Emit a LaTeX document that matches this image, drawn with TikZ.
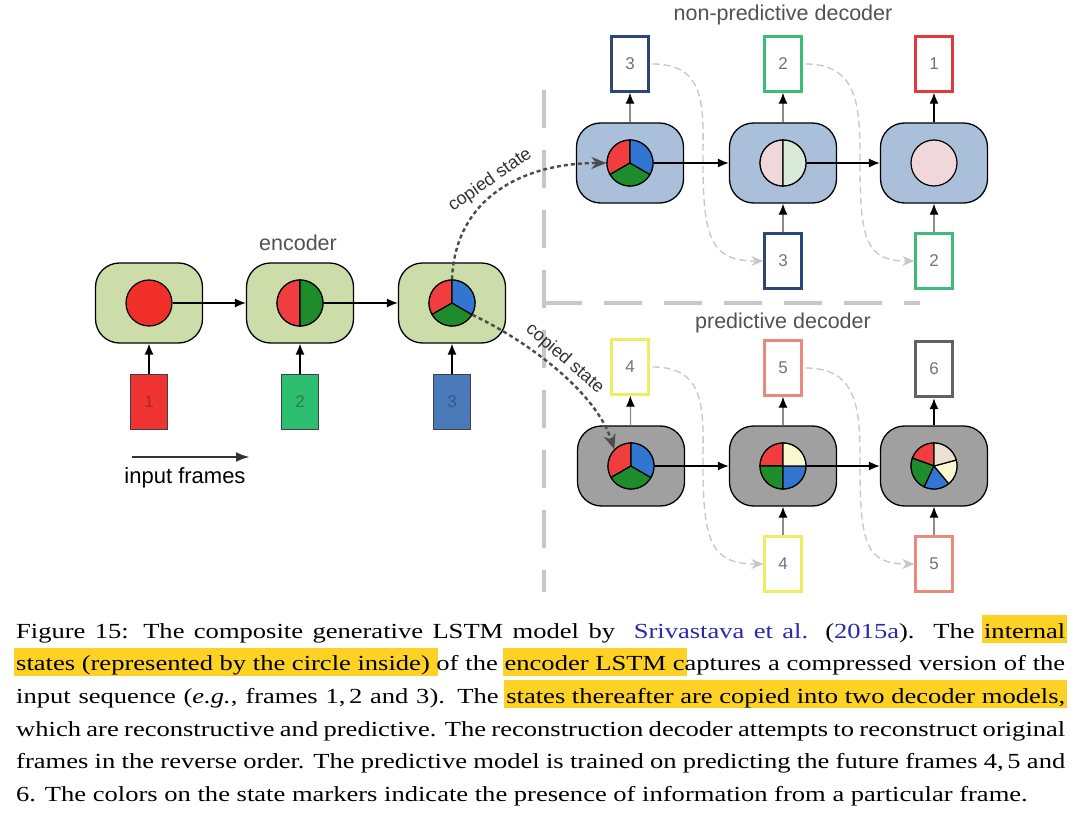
\documentclass[tikz,border=0pt]{standalone}
\usepackage{fontspec}
\setmainfont{Liberation Serif}
\setsansfont{Liberation Sans}
\newfontfamily\capfont[FakeStretch=1.235]{Liberation Serif}
\usetikzlibrary{arrows.meta}

\definecolor{encgreen}{RGB}{204,221,170}
\definecolor{decblue}{RGB}{170,191,217}
\definecolor{decgray}{RGB}{160,160,160}
\definecolor{ecred}{RGB}{240,48,40}
\definecolor{sred}{RGB}{240,62,62}
\definecolor{sgreen}{RGB}{30,140,42}
\definecolor{sblue}{RGB}{50,118,210}
\definecolor{syellow}{RGB}{251,248,208}
\definecolor{sbeige}{RGB}{236,226,212}
\definecolor{spink}{RGB}{240,216,218}
\definecolor{smint}{RGB}{216,234,216}
\definecolor{fred}{RGB}{240,52,52}
\definecolor{fgreen}{RGB}{46,190,112}
\definecolor{fblue}{RGB}{74,121,185}
\definecolor{lnavy}{RGB}{46,70,118}
\definecolor{lgreen}{RGB}{62,186,122}
\definecolor{lred}{RGB}{226,58,58}
\definecolor{lyellow}{RGB}{238,238,96}
\definecolor{lsalmon}{RGB}{232,138,124}
\definecolor{hlyellow}{RGB}{253,210,36}
\definecolor{citeblue}{RGB}{40,40,176}

\newcommand{\statepart}[4]{\filldraw [fill=#2,line width=1.2pt] (#1) -- ++(#3:23) arc [start angle=#3,end angle=#4,radius=23] -- cycle;}
\newcommand{\hlt}[1]{\kern-2pt{\setlength{\fboxsep}{0pt}\colorbox{hlyellow}{\rule[-5pt]{0pt}{28pt}\kern2pt#1\kern2pt}}\kern-2pt}

\begin{document}
\begin{tikzpicture}[x=1pt,y=1pt,
    cellbox/.style={draw,line width=1.3pt,rounded corners=24pt,minimum width=107pt,minimum height=80pt},
    statedot/.style={circle,draw,line width=1.2pt,minimum size=46pt,inner sep=0pt},
    frm/.style={draw,line width=2.4pt,minimum width=37pt,minimum height=55pt,inner sep=0pt,fill=white,text=black!55,font=\sffamily\fontsize{17}{17}\selectfont},
    inframe/.style={frm,draw=black!75,line width=1.2pt},
    lbl/.style={text=black!68,font=\sffamily\fontsize{21.5}{21.5}\selectfont},
    flow/.style={-{Latex[length=11pt,width=9pt]},line width=1.3pt},
    outflow/.style={-{Latex[length=11pt,width=9pt,color=black]},line width=1.2pt,draw=black!45},
    copyflow/.style={-{Stealth[length=15pt,width=12pt]},line width=2.4pt,draw=black!70,dash pattern=on 4pt off 3pt},
    copylbl/.style={text=black!80,font=\sffamily\fontsize{18}{18}\selectfont,inner sep=4pt},
    backflow/.style={-{Stealth[length=12pt,width=10pt]},line width=1.3pt,draw=black!22,dash pattern=on 7pt off 4pt},
    sepline/.style={line width=4pt,draw=black!22,dash pattern=on 38pt off 22pt},
    capline/.style={anchor=base west,inner sep=0pt,font=\capfont\fontsize{21.5}{21.5}\selectfont}
  ]
  \useasboundingbox (0,0) rectangle (1080,-821);
  \fill [white] (0,0) rectangle (1080,-821);

  \draw [sepline] (544,-90) -- (544,-592);
  \draw [sepline] (544,-303) -- (920,-303);

  % encoder
  \node [lbl] (enc) at (298,-243) {encoder};
  \node (e1) [cellbox,fill=encgreen] at (149,-303) {};
  \node (e2) [cellbox,fill=encgreen] at (300,-303) {};
  \node (e3) [cellbox,fill=encgreen] at (452,-303) {};
  \node (ec1) [statedot,fill=ecred] at (e1) {};
  \node (ec2) [statedot] at (e2) {};
  \statepart{ec2.center}{sred}{90}{270}
  \statepart{ec2.center}{sgreen}{-90}{90}
  \node (ec3) [statedot] at (e3) {};
  \statepart{ec3.center}{sred}{90}{210}
  \statepart{ec3.center}{sgreen}{210}{330}
  \statepart{ec3.center}{sblue}{-30}{90}
  \node (x1) [inframe,fill=fred,text=fred!72!black] at (149,-402) {1};
  \node (x2) [inframe,fill=fgreen,text=fgreen!68!black] at (300,-402) {2};
  \node (x3) [inframe,fill=fblue,text=fblue!72!black] at (452,-402) {3};
  \draw [flow] (ec1) -- (e2);
  \draw [flow] (ec2) -- (e3);
  \draw [flow] (x1) -- (e1);
  \draw [flow] (x2) -- (e2);
  \draw [flow] (x3) -- (e3);
  \coordinate (ia) at (132,-457);
  \coordinate (ib) at (250,-457);
  \draw [-{Latex[length=14pt,width=10pt]},line width=2.6pt,draw=black!80] (ia) -- (ib);
  \node [font=\sffamily\fontsize{22}{22}\selectfont] (inp) at (185,-478) {input frames};

  % non-predictive decoder
  \node [lbl] (nplab) at (783,-15) {non-predictive decoder};
  \node (n1) [cellbox,fill=decblue] at (630,-163) {};
  \node (n2) [cellbox,fill=decblue] at (783,-163) {};
  \node (n3) [cellbox,fill=decblue] at (934,-163) {};
  \node (nc1) [statedot] at (n1) {};
  \statepart{nc1.center}{sred}{90}{210}
  \statepart{nc1.center}{sgreen}{210}{330}
  \statepart{nc1.center}{sblue}{-30}{90}
  \node (nc2) [statedot] at (n2) {};
  \statepart{nc2.center}{spink}{90}{270}
  \statepart{nc2.center}{smint}{-90}{90}
  \node (nc3) [statedot,fill=spink] at (n3) {};
  \node (ny1) [frm,draw=lnavy] at (630,-64) {3};
  \node (ny2) [frm,draw=lgreen] at (783,-64) {2};
  \node (ny3) [frm,draw=lred] at (934,-64) {1};
  \node (nx2) [frm,draw=lnavy] at (783,-261) {3};
  \node (nx3) [frm,draw=lgreen] at (934,-261) {2};
  \draw [flow] (nc1) -- (n2);
  \draw [flow] (nc2) -- (n3);
  \draw [outflow] (n1) -- (ny1);
  \draw [outflow] (n2) -- (ny2);
  \draw [flow] (n3) -- (ny3);
  \draw [outflow] (nx2) -- (n2);
  \draw [outflow] (nx3) -- (n3);
  \draw [backflow,shorten <=3pt] (ny1.east) .. controls (708,-64) and (703,-110) .. (703,-163) .. controls (703,-240) and (712,-261) .. (nx2.west);
  \draw [backflow,shorten <=3pt] (ny2.east) .. controls (860,-64) and (860,-110) .. (860,-163) .. controls (860,-240) and (866,-261) .. (nx3.west);

  % predictive decoder
  \node [lbl] (plab) at (783,-323) {predictive decoder};
  \node (p1) [cellbox,fill=decgray] at (631,-466) {};
  \node (p2) [cellbox,fill=decgray] at (783,-466) {};
  \node (p3) [cellbox,fill=decgray] at (934,-466) {};
  \node (pc1) [statedot] at (p1) {};
  \statepart{pc1.center}{sred}{90}{210}
  \statepart{pc1.center}{sgreen}{210}{330}
  \statepart{pc1.center}{sblue}{-30}{90}
  \node (pc2) [statedot] at (p2) {};
  \statepart{pc2.center}{sred}{90}{180}
  \statepart{pc2.center}{sgreen}{180}{270}
  \statepart{pc2.center}{sblue}{270}{360}
  \statepart{pc2.center}{syellow}{0}{90}
  \node (pc3) [statedot] at (p3) {};
  \statepart{pc3.center}{sred}{90}{160}
  \statepart{pc3.center}{sgreen}{160}{245}
  \statepart{pc3.center}{sblue}{245}{310}
  \statepart{pc3.center}{syellow}{-50}{15}
  \statepart{pc3.center}{sbeige}{15}{90}
  \node (py1) [frm,draw=lyellow] at (630,-367) {4};
  \node (py2) [frm,draw=lsalmon] at (783,-368) {5};
  \node (py3) [frm,draw=black!62,line width=3.4pt] at (934,-369) {6};
  \node (px2) [frm,draw=lyellow] at (783,-564) {4};
  \node (px3) [frm,draw=lsalmon] at (934,-564) {5};
  \draw [flow] (pc1) -- (p2);
  \draw [flow] (pc2) -- (p3);
  \draw [outflow] (p1) -- (py1);
  \draw [outflow] (p2) -- (py2);
  \draw [flow] (p3) -- (py3);
  \draw [outflow] (px2) -- (p2);
  \draw [outflow] (px3) -- (p3);
  \draw [backflow,shorten <=3pt] (py1.east) .. controls (708,-367) and (703,-413) .. (703,-466) .. controls (703,-543) and (712,-564) .. (px2.west);
  \draw [backflow,shorten <=3pt] (py2.east) .. controls (860,-368) and (860,-413) .. (860,-466) .. controls (860,-543) and (866,-564) .. (px3.west);

  % copied states
  \draw [copyflow] (ec3.north) .. controls (455,-200) and (520,-163) .. node [copylbl,sloped,above,pos=0.5] {copied state} (nc1.west);
  \draw [copyflow] (ec3.-30) .. controls (525,-340) and (595,-390) .. node [copylbl,sloped,above,pos=0.5] {copied state} (pc1.135);

  % caption
  \node [capline] (cap1) at (16,-638) {\makebox[1049pt][s]{Figure 15: The composite generative LSTM model by\ \ {\color{citeblue}Srivastava et al.} ({\color{citeblue}2015a}).\ \ The \hlt{internal}}};
  \node [capline] (cap2) at (16,-670.7) {\makebox[1049pt][s]{\hlt{states (represented by the circle inside) }of the \hlt{encoder LSTM c}aptures a compressed version of the}};
  \node [capline] (cap3) at (16,-703.4) {\makebox[1049pt][s]{input sequence (\emph{e.g.}, frames 1,\,2 and 3). The \hlt{states thereafter are copied into two decoder models,}}};
  \node [capline] (cap4) at (16,-736.1) {\makebox[1049pt][s]{which are reconstructive and predictive. The reconstruction decoder attempts to reconstruct original}};
  \node [capline] (cap5) at (16,-768.8) {\makebox[1049pt][s]{frames in the reverse order. The predictive model is trained on predicting the future frames 4,\,5 and}};
  \node [capline] (cap6) at (16,-801.5) {6. The colors on the state markers indicate the presence of information from a particular frame.};
\end{tikzpicture}
\end{document}
